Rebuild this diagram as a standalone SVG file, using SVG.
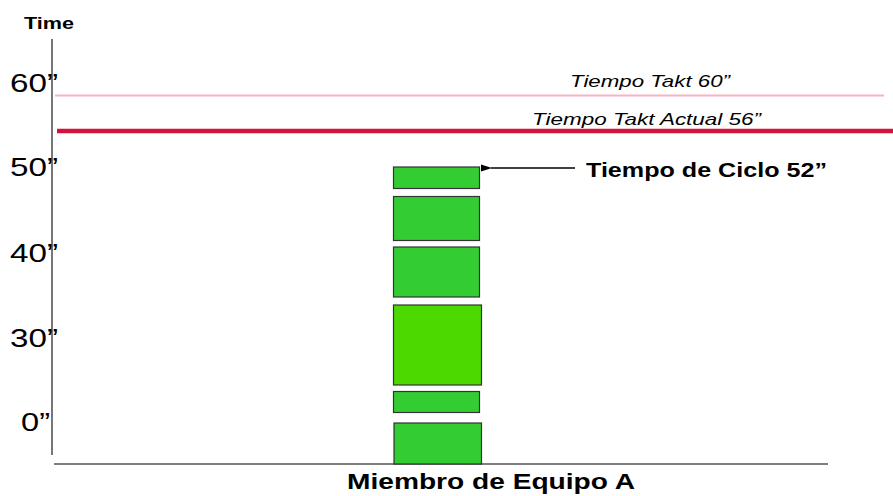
<svg xmlns="http://www.w3.org/2000/svg" width="893" height="496" viewBox="0 0 893 496">
<style>
.ax{stroke:#555;stroke-width:1.6;fill:none}
.tick{font-family:"Liberation Sans",Arial,sans-serif;font-size:26px;fill:#000}
.bold{font-family:"Liberation Sans",Arial,sans-serif;font-weight:bold;fill:#000}
.it{font-family:"Liberation Sans",Arial,sans-serif;font-style:italic;font-size:16.5px;fill:#000}
.blk{fill:#33CC33;stroke:#333;stroke-width:1.2}
.blk2{fill:#4CD900;stroke:#333;stroke-width:1.2}
</style>
<defs>
<marker id="ah" markerWidth="12" markerHeight="10" refX="1" refY="5" orient="auto" markerUnits="userSpaceOnUse">
<path d="M11,1.5 L0,5 L11,8.5 Z" fill="#000"/>
</marker>
</defs>
<rect width="893" height="496" fill="#fff"/>
<g id="axes">
<line class="ax" x1="52" y1="39" x2="52" y2="455"/>
<line class="ax" x1="54" y1="464" x2="828" y2="464"/>
<text class="bold" x="24" y="28.5" font-size="17" textLength="50" lengthAdjust="spacingAndGlyphs">Time</text>
<text class="tick" x="10" y="92" textLength="48" lengthAdjust="spacingAndGlyphs">60”</text>
<text class="tick" x="10" y="176" textLength="48" lengthAdjust="spacingAndGlyphs">50”</text>
<text class="tick" x="10" y="262" textLength="48" lengthAdjust="spacingAndGlyphs">40”</text>
<text class="tick" x="10" y="346.5" textLength="48" lengthAdjust="spacingAndGlyphs">30”</text>
<text class="tick" x="21" y="431" textLength="29" lengthAdjust="spacingAndGlyphs">0”</text>
<text class="bold" x="347" y="489" font-size="22" textLength="288" lengthAdjust="spacingAndGlyphs">Miembro de Equipo A</text>
</g>
<g id="takt">
<line x1="55" y1="95.5" x2="884" y2="95.5" stroke="#F7B3C0" stroke-width="2"/>
<text class="it" x="570" y="86.5" textLength="160" lengthAdjust="spacingAndGlyphs">Tiempo Takt 60”</text>
</g>
<g id="takt-actual">
<line x1="57" y1="131" x2="893" y2="131" stroke="#D2143A" stroke-width="4.5"/>
<text class="it" x="532" y="125" textLength="229" lengthAdjust="spacingAndGlyphs">Tiempo Takt Actual 56”</text>
</g>
<g id="blocks">
<rect class="blk" x="393.5" y="167" width="86" height="21.5"/>
<rect class="blk" x="393.5" y="196.5" width="86" height="44"/>
<rect class="blk" x="393.5" y="247" width="86" height="50"/>
<rect class="blk2" x="393.5" y="305" width="88" height="80"/>
<rect class="blk" x="393.5" y="391.5" width="86" height="21"/>
<rect class="blk" x="394" y="423" width="87.5" height="41"/>
</g>
<g id="connectors">
<line x1="575" y1="168" x2="491" y2="168" stroke="#000" stroke-width="1.5" marker-end="url(#ah)"/>
</g>
<g id="cycle-label">
<text class="bold" x="586" y="177" font-size="19.5" textLength="241" lengthAdjust="spacingAndGlyphs">Tiempo de Ciclo 52”</text>
</g>
</svg>
